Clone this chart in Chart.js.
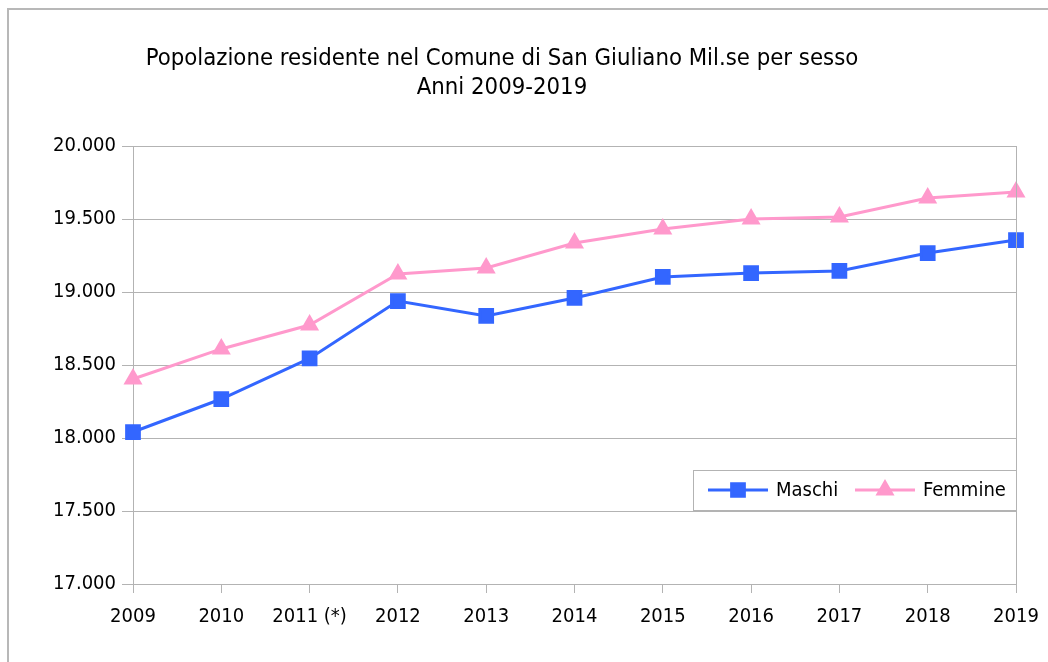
<!DOCTYPE html>
<html>
<head>
<meta charset="utf-8">
<script src="https://cdn.jsdelivr.net/npm/chart.js@4.4.1/dist/chart.umd.min.js"></script>
<style>
  html, body { margin: 0; padding: 0; background: #fff; }
  #wrap { position: relative; width: 1048px; height: 662px; overflow: hidden; }
  #frame {
    position: absolute; left: 7px; top: 8px; width: 1100px; height: 700px;
    border-left: 2px solid #b8b8b8; border-top: 2px solid #b8b8b8;
  }
  #title {
    position: absolute; left: 0; width: 1004px; top: 43px;
    text-align: center; font-family: "DejaVu Sans Condensed", "DejaVu Sans", sans-serif;
    font-size: 23.7px; line-height: 29px; color: #000; white-space: nowrap;
  }
  canvas { position: absolute; left: 0; top: 0; }
</style>
</head>
<body>
<div id="wrap">
  <div id="frame"></div>
  <canvas id="chart" width="1048" height="662"></canvas>
  <div id="title">Popolazione residente nel Comune di San Giuliano Mil.se per sesso<br>Anni 2009-2019</div>
</div>
<script>
const years = ["2009", "2010", "2011 (*)", "2012", "2013", "2014", "2015", "2016", "2017", "2018", "2019"];
const maschi = [18041, 18267, 18545, 18938, 18836, 18959, 19103, 19130, 19144, 19267, 19356];
const femmine = [18404, 18610, 18774, 19123, 19164, 19336, 19432, 19500, 19514, 19644, 19685];

const FONT = "DejaVu Sans Condensed";
const GRID = "#b3b3b3";

function fmt(v) {
  return String(v).replace(/\B(?=(\d{3})+(?!\d))/g, ".");
}

// right border of the plot area + legend box inside the chart
const framePlugin = {
  id: "framePlugin",
  afterDraw(chart) {
    const ctx = chart.ctx;
    const a = chart.chartArea;
    ctx.save();
    ctx.strokeStyle = GRID;
    ctx.lineWidth = 1;
    ctx.beginPath();
    ctx.moveTo(a.right + 0.5, a.top);
    ctx.lineTo(a.right + 0.5, a.bottom);
    ctx.stroke();

    // legend
    const bx = 693, by = 470, bw = 323, bh = 40;
    ctx.fillStyle = "#fff";
    ctx.fillRect(bx, by, bw, bh);
    ctx.strokeStyle = "#b3b3b3";
    ctx.strokeRect(bx + 0.5, by + 0.5, bw, bh);
    const items = [
      { x: 708, ds: chart.data.datasets[0] },
      { x: 855, ds: chart.data.datasets[1] },
    ];
    const cy = by + bh / 2;
    items.forEach((it) => {
      ctx.strokeStyle = it.ds.borderColor;
      ctx.lineWidth = 3;
      ctx.beginPath();
      ctx.moveTo(it.x, cy);
      ctx.lineTo(it.x + 60, cy);
      ctx.stroke();
      ctx.fillStyle = it.ds.pointBackgroundColor;
      ctx.strokeStyle = it.ds.pointBackgroundColor;
      Chart.helpers.drawPoint(ctx, {
        pointStyle: it.ds.pointStyle,
        radius: it.ds.pointRadius,
        borderWidth: 1,
      }, it.x + 30, cy);
      ctx.fillStyle = "#000";
      ctx.font = "20px '" + FONT + "'";
      ctx.textBaseline = "middle";
      ctx.fillText(it.ds.label, it.x + 68, cy + 1);
    });
    ctx.restore();
  },
};

new Chart(document.getElementById("chart").getContext("2d"), {
  type: "line",
  data: {
    labels: years,
    datasets: [
      {
        label: "Maschi",
        data: maschi,
        borderColor: "#3366ff",
        backgroundColor: "#3366ff",
        pointBackgroundColor: "#3366ff",
        pointBorderColor: "#3366ff",
        pointStyle: "rect",
        pointRadius: 9,
        borderWidth: 3,
        tension: 0,
      },
      {
        label: "Femmine",
        data: femmine,
        borderColor: "#ff99cc",
        backgroundColor: "#ff99cc",
        pointBackgroundColor: "#ff99cc",
        pointBorderColor: "#ff99cc",
        pointStyle: "triangle",
        pointRadius: 8,
        borderWidth: 3,
        tension: 0,
      },
    ],
  },
  options: {
    responsive: false,
    animation: false,
    layout: { padding: { top: 146, right: 32, left: 0, bottom: 0 } },
    plugins: {
      legend: { display: false },
      title: { display: false },
      tooltip: { enabled: false },
    },
    scales: {
      x: {
        offset: false,
        afterFit: (s) => {
          s.height = 78;
          s.paddingLeft = 0;
          s.paddingRight = 0;
        },
        ticks: {
          color: "#000",
          font: { family: FONT, size: 20 },
          padding: 12,
          maxRotation: 0,
          autoSkip: false,
        },
        grid: {
          drawOnChartArea: false,
          drawTicks: true,
          tickLength: 9,
          color: GRID,
        },
        border: { color: GRID, width: 1 },
      },
      y: {
        min: 17000,
        max: 20000,
        afterFit: (s) => { s.width = 133; },
        ticks: {
          stepSize: 500,
          color: "#000",
          font: { family: FONT, size: 20 },
          padding: 6,
          callback: (v) => fmt(v),
        },
        grid: {
          color: GRID,
          tickLength: 11,
        },
        border: { color: GRID, width: 1 },
      },
    },
  },
  plugins: [framePlugin],
});
</script>
</body>
</html>
